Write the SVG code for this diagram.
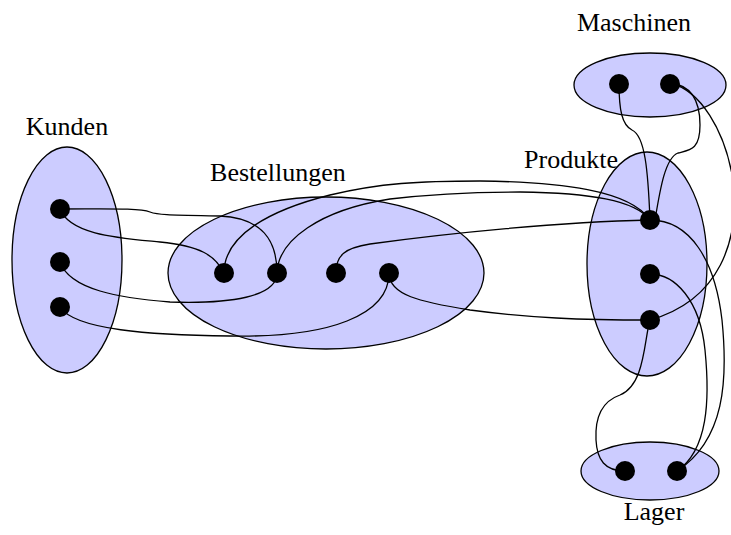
<svg xmlns="http://www.w3.org/2000/svg" width="731" height="535" viewBox="0 0 731 535">
  <style>
    .set { fill: #ccccff; stroke: #000; stroke-width: 1.3; }
    .pt { fill: #000; }
    .lbl { font-family: "Liberation Serif", "Times New Roman", serif; font-size: 26px; fill: #000; text-anchor: middle; }
    #edges path { fill: none; stroke: #000; stroke-width: 1.3; }
  </style>
  <rect width="731" height="535" fill="#fff"/>

  <!-- entity sets -->
  <g id="kunden">
    <ellipse class="set" cx="67" cy="260" rx="55" ry="113"/>
    <text class="lbl" x="67" y="135">Kunden</text>
  </g>
  <g id="bestellungen">
    <ellipse class="set" cx="326" cy="273" rx="158" ry="76"/>
    <text class="lbl" x="278" y="181">Bestellungen</text>
  </g>
  <g id="produkte">
    <ellipse class="set" cx="647" cy="264" rx="60" ry="112"/>
    <text class="lbl" x="571" y="168">Produkte</text>
  </g>
  <g id="maschinen">
    <ellipse class="set" cx="650" cy="85" rx="76" ry="32"/>
    <text class="lbl" x="634" y="31">Maschinen</text>
  </g>
  <g id="lager">
    <ellipse class="set" cx="650" cy="471" rx="69" ry="29"/>
    <text class="lbl" x="654" y="520">Lager</text>
  </g>

  <!-- relations -->
  <g id="edges">
    <path d="M60,209 C110,209 140,208 150,212 C158,215 170,215 220,216 C262,218 277,240 277,273"/>
    <path d="M60,209 C70,235 120,238 160,242 C200,246 215,255 224,273"/>
    <path d="M60,262 C70,290 120,298 170,302 C230,304 277,297 277,273"/>
    <path d="M60,307 C75,330 150,335 230,336 C330,338 389,315 389,273"/>
    <path d="M224,273 C224,235 270,210 330,195 C380,183 420,181 480,181 C560,182 630,190 650,220"/>
    <path d="M277,273 C278,240 320,210 390,199 C440,193 480,192 520,192 C590,193 635,200 650,220"/>
    <path d="M336,273 C336,255 345,248 370,244 C450,233 560,222 650,220"/>
    <path d="M389,273 C389,295 420,302 470,310 C530,318 580,320 650,320"/>
    <path d="M619,83 C619,110 622,125 632,130 C645,136 648,170 650,220"/>
    <path d="M670,83 C690,85 700,100 700,125 C700,150 690,150 678,153 C665,158 660,190 655,220"/>
    <path d="M670,83 C700,90 725,130 733,180 C740,240 720,300 650,320"/>
    <path d="M650,220 C690,220 715,260 722,320 C728,380 725,440 677,471"/>
    <path d="M650,274 C675,274 700,300 705,350 C710,400 708,450 677,471"/>
    <path d="M650,320 C644,340 645,385 620,395 C600,402 595,420 596,440 C597,460 605,471 625,471"/>
  </g>

  <!-- elements -->
  <g id="kunden-elems">
    <circle class="pt" cx="60" cy="209" r="10"/>
    <circle class="pt" cx="60" cy="262" r="10"/>
    <circle class="pt" cx="60" cy="307" r="10"/>
  </g>
  <g id="bestellungen-elems">
    <circle class="pt" cx="224" cy="273" r="10"/>
    <circle class="pt" cx="277" cy="273" r="10"/>
    <circle class="pt" cx="336" cy="273" r="10"/>
    <circle class="pt" cx="389" cy="273" r="10"/>
  </g>
  <g id="produkte-elems">
    <circle class="pt" cx="650" cy="220" r="10"/>
    <circle class="pt" cx="650" cy="274" r="10"/>
    <circle class="pt" cx="650" cy="320" r="10"/>
  </g>
  <g id="maschinen-elems">
    <circle class="pt" cx="619" cy="84" r="10"/>
    <circle class="pt" cx="670" cy="84" r="10"/>
  </g>
  <g id="lager-elems">
    <circle class="pt" cx="625" cy="471" r="10"/>
    <circle class="pt" cx="677" cy="471" r="10"/>
  </g>
</svg>
